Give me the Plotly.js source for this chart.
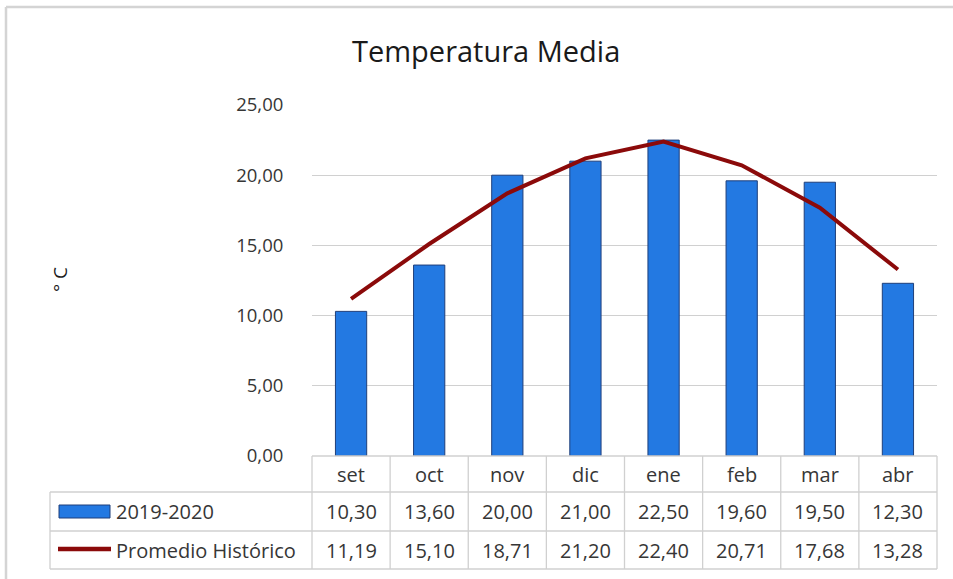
<!DOCTYPE html>
<html>
<head>
<meta charset="utf-8">
<script src="https://cdn.plot.ly/plotly-3.0.1.min.js"></script>
<style>html,body{margin:0;padding:0;background:#fff;}#chart{width:953px;height:579px;}</style>
</head>
<body>
<div id="chart"></div>
<script>
// ---- data ----
const months = ['set','oct','nov','dic','ene','feb','mar','abr'];
const season = [10.30, 13.60, 20.00, 21.00, 22.50, 19.60, 19.50, 12.30];
const historic = [11.19, 15.10, 18.71, 21.20, 22.40, 20.71, 17.68, 13.28];
const seriesNames = ['2019-2020', 'Promedio Histórico'];
const yTicks = [0, 5, 10, 15, 20, 25];
const chartTitle = 'Temperatura Media';
const yTitle = '° C';

// ---- geometry (pixels) ----
const W = 953, H = 579;
const PL = 312, PR = 937, PT = 105, PB = 456;
const px = x => (x - PL) / (PR - PL);
const py = y => (PB - y) / (PB - PT);
const rowTop = [456, 492, 531, 569];
const tableLeft = 50;
const n = months.length;
const colW = (PR - PL) / n;
const gridCol = '#d0d0d0';
const txtCol = '#363636';
const fontFam = '"Open Sans", "Noto Sans", sans-serif';
const fmt = v => v.toFixed(2).replace('.', ',');

const shapes = [];
const line = (x0, y0, x1, y1, c, w) => shapes.push({type:'line', xref:'paper', yref:'paper',
  x0: px(x0), y0: py(y0), x1: px(x1), y1: py(y1), line:{color:c || gridCol, width:w || 1.3}});

// outer chart border (top + left)
line(6, 7, 953, 7, '#d4d4d4', 2.5);
line(6, 7, 6, 579, '#d4d4d4', 2.5);

// table lines
line(PL, rowTop[0], PR, rowTop[0]);
for (let r = 1; r < rowTop.length; r++) line(tableLeft, rowTop[r], PR, rowTop[r]);
line(tableLeft, rowTop[1], tableLeft, rowTop[3]);
for (let k = 0; k <= n; k++) line(PL + k * colW, rowTop[0], PL + k * colW, rowTop[3]);

// legend keys in table
shapes.push({type:'rect', xref:'paper', yref:'paper', x0:px(59), x1:px(110), y0:py(518), y1:py(505),
  fillcolor:'#2379e2', line:{color:'#1f3f7a', width:1}});
line(58, 549, 111, 549, '#8b0a0a', 4.5);

const annotations = [];
annotations.push({xref:'paper', yref:'paper', x: px(486), y: py(50), text: chartTitle, showarrow:false,
  font:{family:fontFam, size:29, color:'#1a1a1a'}, xanchor:'center', yanchor:'middle'});
annotations.push({xref:'paper', yref:'paper', x: px(60), y: py(280), text: yTitle, showarrow:false,
  textangle:-90, font:{family:fontFam, size:19, color:'#1a1a1a'}, xanchor:'center', yanchor:'middle'});

const rowMid = r => (rowTop[r] + rowTop[r + 1]) / 2;
const cellFont = {family:fontFam, size:20, color:txtCol};
months.forEach((m, i) => {
  annotations.push({xref:'x', yref:'paper', x: m, y: py(rowMid(0)), text: m, showarrow:false,
    font:cellFont, xanchor:'center', yanchor:'middle'});
  annotations.push({xref:'x', yref:'paper', x: m, y: py(rowMid(1)), text: fmt(season[i]), showarrow:false,
    font:cellFont, xanchor:'center', yanchor:'middle'});
  annotations.push({xref:'x', yref:'paper', x: m, y: py(rowMid(2)), text: fmt(historic[i]), showarrow:false,
    font:cellFont, xanchor:'center', yanchor:'middle'});
});
annotations.push({xref:'paper', yref:'paper', x: px(114), y: py(rowMid(1)), text: seriesNames[0], showarrow:false,
  font:cellFont, xanchor:'left', yanchor:'middle'});
annotations.push({xref:'paper', yref:'paper', x: px(114), y: py(rowMid(2)), text: seriesNames[1], showarrow:false,
  font:cellFont, xanchor:'left', yanchor:'middle'});

const traces = [
  {type:'bar', name: seriesNames[0], x: months, y: season, width: 0.4,
   marker:{color:'#2379e2', line:{color:'#1f3f7a', width:1}}, hoverinfo:'skip'},
  {type:'scatter', mode:'lines', name: seriesNames[1], x: months, y: historic,
   line:{color:'#8b0a0a', width:4}, hoverinfo:'skip'}
];

const layout = {
  width: W, height: H,
  margin: {l: PL, r: W - PR, t: PT, b: H - PB, pad: 0},
  paper_bgcolor: '#fff', plot_bgcolor: '#fff',
  showlegend: false,
  separators: ',.',
  xaxis: {type:'category', range:[-0.5, n - 0.5], showticklabels:false, showgrid:false,
          zeroline:false, showline:false, ticks:'', fixedrange:true},
  yaxis: {range:[0, 25], tickvals: yTicks, tickformat: '.2f', showgrid:true, gridcolor:'#d0d0d0',
          gridwidth:1.3, zeroline:false, showline:false, ticks:'outside', ticklen:24,
          tickcolor:'rgba(0,0,0,0)', tickfont:{family:fontFam, size:18.5, color:txtCol}, fixedrange:true},
  shapes: shapes,
  annotations: annotations
};

Plotly.newPlot('chart', traces, layout, {displayModeBar:false, staticPlot:true});
</script>
</body>
</html>
